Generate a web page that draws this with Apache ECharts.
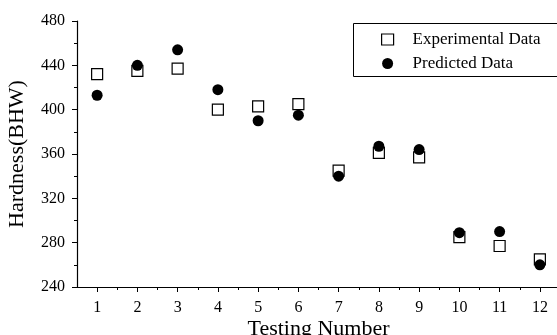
<!DOCTYPE html>
<html><head><meta charset="utf-8">
<script src="https://cdn.jsdelivr.net/npm/echarts@6/dist/echarts.min.js"></script>
<style>html,body{margin:0;padding:0;background:#fff}#c{width:557px;height:335px}</style>
</head><body><div id="c"></div>
<script>
var testNumbers = [1,2,3,4,5,6,7,8,9,10,11,12];
var experimental = [432,435,437,400,403,405,345,361,357,285,277,265];
var predicted = [413,440,454,418,390,395,340,367,364,289,290,260];
var halfTicks = testNumbers.slice(0, 12).map(function(n){ return n + 0.5; });

var font = 'Liberation Serif';
var chart = echarts.init(document.getElementById('c'), null, {renderer:'canvas'});
function pairs(vals){ return testNumbers.map(function(n,i){ return [n, vals[i]]; }); }
chart.setOption({
  animation:false,
  backgroundColor:'#fff',
  grid:{left:77, top:21, bottom:48, right:-3, containLabel:false, outerBoundsMode:'none'},
  xAxis:[{
    type:'value', min:0.5, max:12.5, interval:0.5,
    name:'Testing Number', nameLocation:'middle', nameGap:31, nameMoveOverlap:false,
    nameTextStyle:{fontFamily:font, fontSize:22, color:'#000', verticalAlign:'top'},
    axisLine:{lineStyle:{color:'#000', width:1.2}},
    axisTick:{show:true, length:5, inside:false, customValues:testNumbers, lineStyle:{color:'#000'}},
    axisLabel:{customValues:testNumbers, fontFamily:font, fontSize:16, color:'#000', margin:13},
    splitLine:{show:false}
  },{
    type:'value', min:0.5, max:12.5, interval:0.5, position:'bottom', offset:0,
    axisLine:{show:false},
    axisTick:{show:true, length:3, customValues:halfTicks, lineStyle:{color:'#000'}},
    axisLabel:{show:false}, splitLine:{show:false}
  }],
  yAxis:{
    type:'value', min:240, max:480, interval:40,
    name:'Hardness(BHW)', nameLocation:'middle', nameGap:49, nameMoveOverlap:false,
    nameTextStyle:{fontFamily:font, fontSize:22, color:'#000'},
    axisLine:{show:true, lineStyle:{color:'#000', width:1.2}},
    axisTick:{show:true, length:5, lineStyle:{color:'#000'}},
    minorTick:{show:true, splitNumber:2, length:3, lineStyle:{color:'#000'}},
    axisLabel:{fontFamily:font, fontSize:16, color:'#000', margin:12},
    splitLine:{show:false}
  },
  legend:{
    orient:'vertical', left:376, top:26, itemGap:7, itemWidth:12, itemHeight:11,
    textStyle:{fontFamily:font, fontSize:17, color:'#000', lineHeight:16, padding:[0,0,0,14]},
    data:[{name:'Experimental Data', icon:'rect', itemStyle:{color:'#fff', borderColor:'#000', borderWidth:1.2, opacity:1}},
          {name:'Predicted Data', icon:'circle', itemStyle:{color:'#000', opacity:1}}]
  },
  graphic:[{type:'rect', shape:{x:353.5, y:23.5, width:220, height:53}, style:{fill:null, stroke:'#000', lineWidth:1}, silent:true}],
  series:[{
    name:'Experimental Data', type:'scatter', symbol:'rect', symbolSize:11,
    itemStyle:{color:'#fff', borderColor:'#000', borderWidth:1.2, opacity:1},
    data:pairs(experimental)
  },{
    name:'Predicted Data', type:'scatter', symbol:'circle', symbolSize:11,
    itemStyle:{color:'#000', opacity:1},
    data:pairs(predicted)
  }]
});
</script></body></html>
